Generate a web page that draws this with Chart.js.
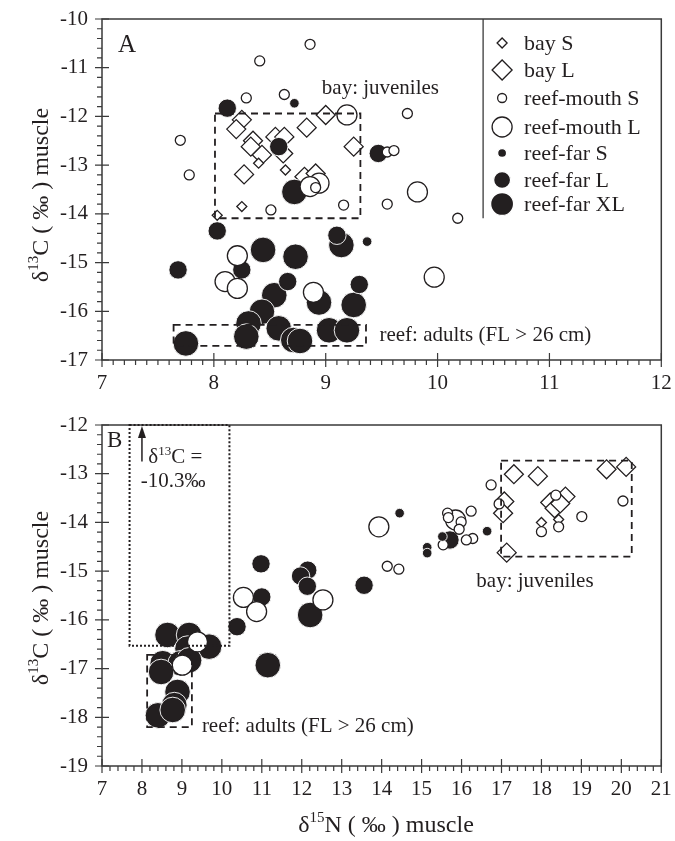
<!DOCTYPE html>
<html>
<head>
<meta charset="utf-8">
<script src="https://cdn.jsdelivr.net/npm/chart.js@4.4.1/dist/chart.umd.min.js"></script>
<style>
  html, body { margin: 0; padding: 0; background: #fff; }
  canvas { position: absolute; left: 0; }
  #chartA { top: 0; }
  #chartB { top: 400px; }
</style>
</head>
<body>
<canvas id="chartA" width="675" height="400"></canvas>
<canvas id="chartB" width="675" height="441"></canvas>
<script>
// ---- data (x = d15N, y = d13C) ----
const seriesLabels = ['bay S', 'bay L', 'reef-mouth S', 'reef-mouth L', 'reef-far S', 'reef-far L', 'reef-far XL'];

// panel A
const bayS_A = [[8.40, -12.96], [8.64, -13.10], [8.25, -13.85], [8.03, -14.03]];
const bayL_A = [[8.25, -12.07], [8.20, -12.26], [8.35, -12.50], [8.33, -12.62], [8.43, -12.79], [8.55, -12.42],
  [8.63, -12.42], [8.62, -12.76], [8.83, -12.23], [9.00, -11.97], [9.25, -12.62], [8.27, -13.19], [8.81, -13.24], [8.91, -13.17]];
const mouthS_A = [[8.86, -10.52], [8.41, -10.86], [8.29, -11.62], [8.63, -11.55], [7.70, -12.49], [7.78, -13.20], [9.73, -11.94],
  [9.55, -12.73], [9.61, -12.70], [8.91, -13.46], [8.51, -13.92], [9.16, -13.82], [9.55, -13.80], [10.18, -14.09]];
const mouthL_A = [[9.19, -11.97], [8.94, -13.37], [8.86, -13.44], [9.82, -13.55], [8.21, -14.86], [8.10, -15.39], [8.21, -15.53],
  [8.89, -15.61], [9.97, -15.30]];
const farS_A = [[8.72, -11.73], [9.37, -14.57]];
const farL_A = [[8.12, -11.83], [8.58, -12.62], [9.47, -12.76], [8.03, -14.35], [7.68, -15.15], [8.25, -15.15], [9.10, -14.44],
  [8.66, -15.39], [9.30, -15.45]];
const farXL_A = [[8.72, -13.55], [8.44, -14.74], [8.73, -14.88], [9.14, -14.64], [8.54, -15.67], [8.94, -15.82], [9.25, -15.87],
  [8.43, -16.01], [8.31, -16.25], [8.29, -16.52], [8.58, -16.35], [8.71, -16.59], [8.77, -16.61], [9.03, -16.39], [9.19, -16.39], [7.75, -16.66]];

// panel B
const bayS_B = [[18.00, -14.00], [18.43, -13.94]];
const bayL_B = [[17.31, -13.01], [17.91, -13.05], [19.63, -12.91], [20.12, -12.86], [17.07, -13.57], [17.04, -13.81], [17.13, -14.62],
  [18.22, -13.59], [18.33, -13.71], [18.60, -13.47], [18.47, -13.61]];
const mouthS_B = [[16.74, -13.23], [16.94, -13.62], [18.36, -13.44], [20.04, -13.56], [19.01, -13.88], [18.00, -14.19], [18.43, -14.09],
  [16.24, -13.77], [15.65, -13.81], [15.67, -13.90], [15.99, -13.99], [15.94, -14.14], [16.28, -14.33], [16.12, -14.36], [15.54, -14.46],
  [14.14, -14.90], [14.43, -14.96]];
const mouthL_B = [[15.85, -13.95], [13.93, -14.09], [10.54, -15.54], [10.87, -15.83], [12.53, -15.59], [9.39, -16.45], [9.01, -16.93]];
const farS_B = [[14.45, -13.81], [16.64, -14.18], [15.52, -14.29], [15.14, -14.51], [15.14, -14.63]];
const farL_B = [[15.71, -14.36], [10.98, -14.85], [12.15, -14.98], [11.97, -15.10], [12.14, -15.31], [13.56, -15.29], [11.00, -15.53], [10.38, -16.14]];
const farXL_B = [[12.21, -15.90], [11.15, -16.93], [8.64, -16.31], [9.18, -16.31], [9.68, -16.55], [9.14, -16.59], [8.52, -16.89],
  [8.97, -16.89], [9.18, -16.83], [8.48, -17.07], [8.89, -17.48], [8.81, -17.75], [8.40, -17.96], [8.77, -17.85]];

// axes
const xRangeA = [7, 12], yRangeA = [-17, -10];
const xRangeB = [7, 21], yRangeB = [-19, -12];

// dashed / dotted boxes [x0, x1, y0, y1]
const juvBoxA = [8.01, 9.31, -11.94, -14.09];
const adultBoxA = [7.64, 9.36, -16.28, -16.71];
const juvBoxB = [16.99, 20.26, -12.73, -14.70];
const adultBoxB = [8.13, 9.25, -16.72, -18.20];
const offBoxB = [7.69, 10.19, -12.0, -16.53];

// ---- styling ----
const SERIF = '"Liberation Serif", "Times New Roman", serif';
const INK = '#231f20';
// order: higher is drawn first (underneath)
const styles = [
  { shape: 'rectRot', r: 5, filled: false, order: 6, lr: 5 },
  { shape: 'rectRot', r: 9.5, filled: false, order: 7, lr: 10 },
  { shape: 'circle', r: 5, filled: false, order: 2, lr: 4.5 },
  { shape: 'circle', r: 10, filled: false, order: 3, lr: 10 },
  { shape: 'circle', r: 4.8, filled: true, order: 1, lr: 4.5 },
  { shape: 'circle', r: 9.2, filled: true, order: 4, lr: 8.5 },
  { shape: 'circle', r: 12.8, filled: true, order: 5, lr: 11.5 }
];

function makeSets(groups) {
  return groups.map((pts, i) => {
    const s = styles[i];
    return {
      label: seriesLabels[i],
      order: s.order,
      data: pts.map(p => ({ x: p[0], y: p[1] })),
      pointStyle: s.shape,
      pointRadius: s.r,
      pointHoverRadius: s.r,
      pointBackgroundColor: s.filled ? INK : '#fff',
      pointBorderColor: s.filled ? '#fff' : INK,
      pointBorderWidth: s.filled ? 0.9 : 1.3,
      showLine: false
    };
  });
}

// text with a superscript part
function richText(ctx, parts, x, y, size, align) {
  const supSize = Math.round(size * 0.64);
  let w = 0;
  parts.forEach(p => {
    ctx.font = (p.sup ? supSize : size) + 'px ' + SERIF;
    p.w = ctx.measureText(p.t).width;
    w += p.w;
  });
  let cx = align === 'center' ? x - w / 2 : x;
  parts.forEach(p => {
    ctx.font = (p.sup ? supSize : size) + 'px ' + SERIF;
    ctx.fillText(p.t, cx, p.sup ? y - size * 0.4 : y);
    cx += p.w;
  });
}

function box(ctx, X, Y, b, dash, lw) {
  ctx.setLineDash(dash);
  ctx.lineWidth = lw;
  ctx.strokeRect(X(b[0]), Y(b[2]), X(b[1]) - X(b[0]), Y(b[3]) - Y(b[2]));
  ctx.setLineDash([]);
}

const deco = {
  id: 'deco',
  afterDraw(chart, args, o) {
    const ctx = chart.ctx, a = chart.chartArea;
    const xs = chart.scales.x, ys = chart.scales.y;
    const X = v => xs.getPixelForValue(v), Y = v => ys.getPixelForValue(v);
    ctx.save();
    ctx.fillStyle = INK;
    ctx.textBaseline = 'alphabetic';
    ctx.textAlign = 'left';

    // frame
    ctx.lineWidth = 1.5;
    ctx.strokeStyle = '#3a3a3a';
    ctx.strokeRect(a.left, a.top, a.right - a.left, a.bottom - a.top);

    // ticks: major cross the axis, minor outside
    ctx.lineWidth = 1.2;
    const tick = (min, max, step, fn) => {
      const n = Math.round((max - min) / step), per = Math.round(1 / step);
      for (let i = 0; i <= n; i++) fn(min + i * step, i % per === 0);
    };
    ctx.beginPath();
    tick(xs.min, xs.max, o.xMinor, (v, major) => {
      const px = X(v);
      ctx.moveTo(px, a.bottom + (major ? 7 : 5));
      ctx.lineTo(px, major ? a.bottom - 7 : a.bottom);
    });
    tick(ys.min, ys.max, 0.2, (v, major) => {
      const py = Y(v);
      ctx.moveTo(a.left - (major ? 7 : 5), py);
      ctx.lineTo(major ? a.left + 7 : a.left, py);
    });
    ctx.stroke();

    ctx.strokeStyle = INK;
    o.boxes.forEach(b => box(ctx, X, Y, b[0], b[1], b[2]));

    ctx.fillStyle = INK;
    o.texts.forEach(t => {
      ctx.font = '21px ' + SERIF;
      ctx.fillText(t[0], X(t[1]), Y(t[2]));
    });

    // panel letter
    ctx.font = o.letterSize + 'px ' + SERIF;
    ctx.fillText(o.letter, a.left + o.letterPos[0], a.top + o.letterPos[1]);

    // y title
    ctx.save();
    ctx.translate(o.yTitle[0], o.yTitle[1]);
    ctx.rotate(-Math.PI / 2);
    richText(ctx, [{ t: 'δ' }, { t: '13', sup: true }, { t: 'C ( ‰ ) muscle' }], 0, 0, 24, 'center');
    ctx.restore();

    if (o.legend) {
      const lx = X(o.legend.x);
      ctx.strokeStyle = '#3a3a3a';
      ctx.lineWidth = 1.3;
      ctx.beginPath();
      ctx.moveTo(lx, a.top);
      ctx.lineTo(lx, Y(o.legend.yEnd));
      ctx.stroke();
      const rows = [24, 51, 79, 108, 134, 161, 185];
      chart.data.datasets.forEach((d, i) => {
        const s = styles[i], y = a.top + rows[i];
        ctx.fillStyle = s.filled ? INK : '#fff';
        ctx.strokeStyle = s.filled ? '#fff' : INK;
        Chart.helpers.drawPoint(ctx, { pointStyle: s.shape, radius: s.lr, rotation: 0, borderWidth: s.filled ? 0.9 : 1.3 }, lx + 19, y);
        ctx.fillStyle = INK;
        ctx.font = '22px ' + SERIF;
        ctx.fillText(d.label, lx + 41, y + 7);
      });
    }

    if (o.arrow) {
      const ax = X(o.arrow[0]), y0 = Y(o.arrow[1]), y1 = Y(o.arrow[2]);
      ctx.strokeStyle = INK;
      ctx.lineWidth = 1.5;
      ctx.beginPath();
      ctx.moveTo(ax, y0);
      ctx.lineTo(ax, y1 + 10);
      ctx.stroke();
      ctx.beginPath();
      ctx.moveTo(ax, y1);
      ctx.lineTo(ax - 4, y1 + 12);
      ctx.lineTo(ax + 4, y1 + 12);
      ctx.closePath();
      ctx.fill();
      richText(ctx, [{ t: 'δ' }, { t: '13', sup: true }, { t: 'C =' }], X(o.note[0]), Y(o.note[1]), 21, 'left');
      ctx.font = '21px ' + SERIF;
      ctx.fillText('-10.3‰', X(o.note2[0]), Y(o.note2[1]));
    }

    if (o.xTitle) {
      richText(ctx, [{ t: 'δ' }, { t: '15', sup: true }, { t: 'N ( ‰ ) muscle' }], o.xTitle[0], o.xTitle[1], 24, 'center');
    }
    ctx.restore();
  }
};

function makeChart(id, groups, xr, yr, xAxisH, pad, deco_opts) {
  return new Chart(document.getElementById(id), {
    type: 'scatter',
    data: { datasets: makeSets(groups) },
    options: {
      responsive: false,
      animation: false,
      events: [],
      layout: { padding: { top: pad, right: 8, left: 0, bottom: 0 } },
      plugins: { legend: { display: false }, tooltip: { enabled: false }, deco: deco_opts },
      scales: {
        x: {
          type: 'linear', min: xr[0], max: xr[1],
          grid: { display: false, drawTicks: false },
          border: { display: false },
          ticks: { stepSize: 1, padding: 11, color: INK, font: { family: SERIF, size: 21 } },
          afterFit: s => { s.height = xAxisH; s.paddingLeft = 0; s.paddingRight = 0; }
        },
        y: {
          type: 'linear', min: yr[0], max: yr[1],
          grid: { display: false, drawTicks: false },
          border: { display: false },
          ticks: { stepSize: 1, padding: 14, color: INK, font: { family: SERIF, size: 21 } },
          afterFit: s => { s.width = 102; s.paddingTop = 0; s.paddingBottom = 0; }
        }
      }
    },
    plugins: [deco]
  });
}

makeChart('chartA', [bayS_A, bayL_A, mouthS_A, mouthL_A, farS_A, farL_A, farXL_A], xRangeA, yRangeA, 40, 19, {
  xMinor: 0.1,
  boxes: [[juvBoxA, [7, 5], 1.8], [adultBoxA, [7, 5], 1.8]],
  texts: [['bay: juveniles', 8.965, -11.54], ['reef: adults (FL > 26 cm)', 9.48, -16.61]],
  letter: 'A', letterSize: 25, letterPos: [16, 33],
  yTitle: [48, 195],
  legend: { x: 10.407, yEnd: -14.09 }
});

makeChart('chartB', [bayS_B, bayL_B, mouthS_B, mouthL_B, farS_B, farL_B, farXL_B], xRangeB, yRangeB, 75, 25, {
  xMinor: 0.2,
  boxes: [[juvBoxB, [7, 5], 1.8], [adultBoxB, [7, 5], 1.8], [offBoxB, [2, 2], 2]],
  texts: [['bay: juveniles', 16.37, -15.33], ['reef: adults (FL > 26 cm)', 9.50, -18.30]],
  letter: 'B', letterSize: 23, letterPos: [5, 22],
  yTitle: [48, 198],
  arrow: [8.0, -12.75, -12.02],
  note: [8.16, -12.78],
  note2: [7.97, -13.27],
  xTitle: [386, 432]
});
</script>
</body>
</html>
